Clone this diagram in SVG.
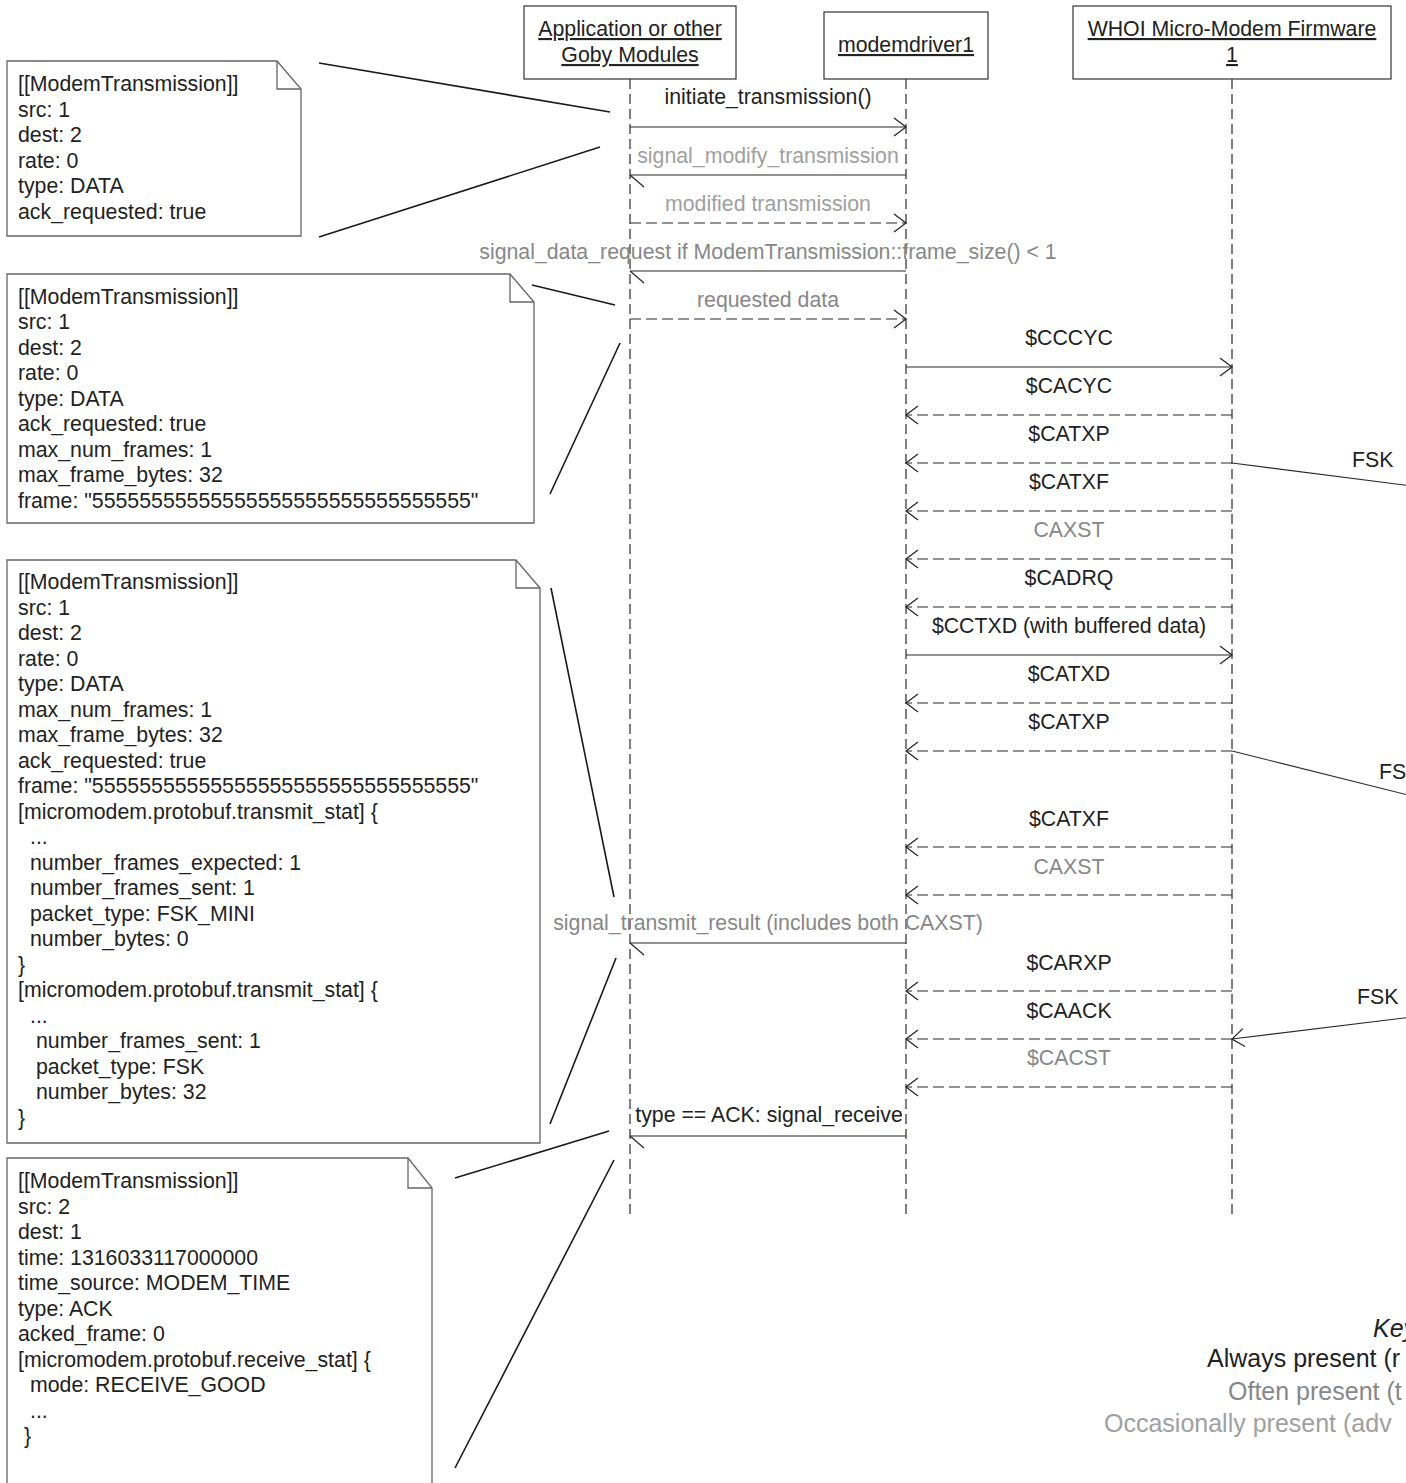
<svg xmlns="http://www.w3.org/2000/svg" width="1406" height="1483" viewBox="0 0 1406 1483">
  <style>
    text { font-family: "Liberation Sans", Arial, sans-serif; font-size: 21.3px; fill: #222; }
    .head { text-anchor: middle; text-decoration: underline; }
    .lbl { text-anchor: middle; }
    .often { fill: #878787; }
    .occ { fill: #a0a0a0; }
    .box { fill: #fff; stroke: #333; stroke-width: 1.2; }
    .life { fill: none; stroke: #555; stroke-width: 1.5; stroke-dasharray: 10 5; }
    .note { fill: #fff; stroke: #666; stroke-width: 1.3; }
    .fold { fill: none; stroke: #666; stroke-width: 1.3; }
    .msg { fill: none; stroke: #2a2a2a; stroke-width: 1.2; }
    .dash { stroke-dasharray: 11 5; }
    .tie { fill: none; stroke: #1a1a1a; stroke-width: 1.6; }
    .key { font-size: 25px; }
  </style>
  <defs>
    <marker id="open" markerUnits="userSpaceOnUse" viewBox="-16 -16 32 32" markerWidth="32" markerHeight="32" refX="0" refY="0" orient="auto" overflow="visible">
      <path d="M-12,-9 L0,0 L-12,9" fill="none" stroke="#2a2a2a" stroke-width="1.3"/>
    </marker>
    <marker id="half" markerUnits="userSpaceOnUse" viewBox="-16 -16 32 32" markerWidth="32" markerHeight="32" refX="0" refY="0" orient="auto" overflow="visible">
      <path d="M-14,-12 L0,0" fill="none" stroke="#2a2a2a" stroke-width="1.3"/>
    </marker>
  </defs>

  <rect width="1406" height="1483" fill="#fff"/>

  <!-- lifelines with their header boxes -->
  <g id="app">
    <path class="life" d="M630,79 V1217"/>
    <rect class="box" x="524" y="6" width="212" height="73"/>
    <text class="head" x="630" y="36">Application or other</text>
    <text class="head" x="630" y="62">Goby Modules</text>
  </g>
  <g id="modemdriver1">
    <path class="life" d="M906,79 V1217"/>
    <rect class="box" x="824" y="12" width="164" height="67"/>
    <text class="head" x="906" y="52">modemdriver1</text>
  </g>
  <g id="firmware">
    <path class="life" d="M1232,79 V1217"/>
    <rect class="box" x="1073" y="6" width="318" height="73"/>
    <text class="head" x="1232" y="36">WHOI Micro-Modem Firmware</text>
    <text class="head" x="1232" y="62">1</text>
  </g>

  <!-- notes -->
  <g id="note-initiate">
    <path class="note" d="M7,61 H277 L301,89 V236 H7 Z"/>
    <path class="fold" d="M277,61 V89 H301"/>
    <text x="18" y="91">[[ModemTransmission]]<tspan x="18" dy="25.5">src: 1</tspan><tspan x="18" dy="25.5">dest: 2</tspan><tspan x="18" dy="25.5">rate: 0</tspan><tspan x="18" dy="25.5">type: DATA</tspan><tspan x="18" dy="25.5">ack_requested: true</tspan></text>
  </g>
  <g id="note-data">
    <path class="note" d="M7,274 H510 L534,302 V523 H7 Z"/>
    <path class="fold" d="M510,274 V302 H534"/>
    <text x="18" y="303.5">[[ModemTransmission]]<tspan x="18" dy="25.5">src: 1</tspan><tspan x="18" dy="25.5">dest: 2</tspan><tspan x="18" dy="25.5">rate: 0</tspan><tspan x="18" dy="25.5">type: DATA</tspan><tspan x="18" dy="25.5">ack_requested: true</tspan><tspan x="18" dy="25.5">max_num_frames: 1</tspan><tspan x="18" dy="25.5">max_frame_bytes: 32</tspan><tspan x="18" dy="25.5">frame: "55555555555555555555555555555555"</tspan></text>
  </g>
  <g id="note-result">
    <path class="note" d="M7,560 H516 L540,588 V1143 H7 Z"/>
    <path class="fold" d="M516,560 V588 H540"/>
    <text x="18" y="589">[[ModemTransmission]]<tspan x="18" dy="25.5">src: 1</tspan><tspan x="18" dy="25.5">dest: 2</tspan><tspan x="18" dy="25.5">rate: 0</tspan><tspan x="18" dy="25.5">type: DATA</tspan><tspan x="18" dy="25.5">max_num_frames: 1</tspan><tspan x="18" dy="25.5">max_frame_bytes: 32</tspan><tspan x="18" dy="25.5">ack_requested: true</tspan><tspan x="18" dy="25.5">frame: "55555555555555555555555555555555"</tspan><tspan x="18" dy="25.5">[micromodem.protobuf.transmit_stat] {</tspan><tspan x="30" dy="25.5">...</tspan><tspan x="30" dy="25.5">number_frames_expected: 1</tspan><tspan x="30" dy="25.5">number_frames_sent: 1</tspan><tspan x="30" dy="25.5">packet_type: FSK_MINI</tspan><tspan x="30" dy="25.5">number_bytes: 0</tspan><tspan x="18" dy="25.5">}</tspan><tspan x="18" dy="25.5">[micromodem.protobuf.transmit_stat] {</tspan><tspan x="30" dy="25.5">...</tspan><tspan x="36" dy="25.5">number_frames_sent: 1</tspan><tspan x="36" dy="25.5">packet_type: FSK</tspan><tspan x="36" dy="25.5">number_bytes: 32</tspan><tspan x="18" dy="25.5">}</tspan></text>
  </g>
  <g id="note-ack">
    <path class="note" d="M7,1158 H408 L432,1188 V1495 H7 Z"/>
    <path class="fold" d="M408,1158 V1188 H432"/>
    <text x="18" y="1188">[[ModemTransmission]]<tspan x="18" dy="25.5">src: 2</tspan><tspan x="18" dy="25.5">dest: 1</tspan><tspan x="18" dy="25.5">time: 1316033117000000</tspan><tspan x="18" dy="25.5">time_source: MODEM_TIME</tspan><tspan x="18" dy="25.5">type: ACK</tspan><tspan x="18" dy="25.5">acked_frame: 0</tspan><tspan x="18" dy="25.5">[micromodem.protobuf.receive_stat] {</tspan><tspan x="30" dy="25.5">mode: RECEIVE_GOOD</tspan><tspan x="30" dy="25.5">...</tspan><tspan x="24" dy="25.5">}</tspan></text>
  </g>

  <!-- legend -->
  <g id="legend">
    <text class="key" x="1373" y="1337" font-style="italic">Key</text>
    <text class="key" x="1207" y="1367">Always present (r</text>
    <text class="key often" x="1228" y="1400">Often present (t</text>
    <text class="key occ" x="1104" y="1432">Occasionally present (adv</text>
  </g>

  <!-- messages, note ties and acoustic links -->
  <g id="connectors">
    <path class="msg" d="M630,127 H906" marker-end="url(#open)"/>
    <text class="lbl" x="768" y="104">initiate_transmission()</text>

    <path class="msg" d="M906,175 H630" marker-end="url(#half)"/>
    <text class="lbl occ" x="768" y="163">signal_modify_transmission</text>

    <path class="msg dash" d="M630,223 H906" marker-end="url(#open)"/>
    <text class="lbl occ" x="768" y="211">modified transmission</text>

    <path class="msg" d="M906,271 H630" marker-end="url(#half)"/>
    <text class="lbl often" x="768" y="259">signal_data_request if ModemTransmission::frame_size() &lt; 1</text>

    <path class="msg dash" d="M630,319 H906" marker-end="url(#open)"/>
    <text class="lbl often" x="768" y="307">requested data</text>

    <path class="msg" d="M906,367 H1232" marker-end="url(#open)"/>
    <text class="lbl" x="1069" y="345">$CCCYC</text>

    <path class="msg dash" d="M1232,415 H906" marker-end="url(#open)"/>
    <text class="lbl" x="1069" y="393">$CACYC</text>

    <path class="msg dash" d="M1232,463 H906" marker-end="url(#open)"/>
    <text class="lbl" x="1069" y="441">$CATXP</text>

    <path class="msg dash" d="M1232,511 H906" marker-end="url(#open)"/>
    <text class="lbl" x="1069" y="489">$CATXF</text>

    <path class="msg dash" d="M1232,559 H906" marker-end="url(#open)"/>
    <text class="lbl often" x="1069" y="537">CAXST</text>

    <path class="msg dash" d="M1232,607 H906" marker-end="url(#open)"/>
    <text class="lbl" x="1069" y="585">$CADRQ</text>

    <path class="msg" d="M906,655 H1232" marker-end="url(#open)"/>
    <text class="lbl" x="1069" y="633">$CCTXD (with buffered data)</text>

    <path class="msg dash" d="M1232,703 H906" marker-end="url(#open)"/>
    <text class="lbl" x="1069" y="681">$CATXD</text>

    <path class="msg dash" d="M1232,751 H906" marker-end="url(#open)"/>
    <text class="lbl" x="1069" y="729">$CATXP</text>

    <path class="msg dash" d="M1232,847 H906" marker-end="url(#open)"/>
    <text class="lbl" x="1069" y="826">$CATXF</text>

    <path class="msg dash" d="M1232,895 H906" marker-end="url(#open)"/>
    <text class="lbl often" x="1069" y="874">CAXST</text>

    <path class="msg" d="M906,943 H630" marker-end="url(#half)"/>
    <text class="lbl often" x="768" y="930">signal_transmit_result (includes both CAXST)</text>

    <path class="msg dash" d="M1232,991 H906" marker-end="url(#open)"/>
    <text class="lbl" x="1069" y="970">$CARXP</text>

    <path class="msg dash" d="M1232,1039 H906" marker-end="url(#open)"/>
    <text class="lbl" x="1069" y="1018">$CAACK</text>

    <path class="msg dash" d="M1232,1087 H906" marker-end="url(#open)"/>
    <text class="lbl often" x="1069" y="1065">$CACST</text>

    <path class="msg" d="M906,1136 H630" marker-end="url(#half)"/>
    <text class="lbl" x="769" y="1122">type == ACK: signal_receive</text>

    <!-- acoustic packets leaving / arriving at the firmware -->
    <path class="msg" d="M1232,463 L1412,486"/>
    <text x="1352" y="467">FSK</text>
    <path class="msg" d="M1232,751 L1412,796"/>
    <text x="1379" y="779">FSK</text>
    <path class="msg" d="M1412,1017 L1232,1039" marker-end="url(#open)"/>
    <text x="1357" y="1004">FSK</text>

    <!-- ties from notes to lifelines -->
    <path class="tie" d="M319,63 L610,112"/>
    <path class="tie" d="M319,237 L600,147"/>
    <path class="tie" d="M532,285 L615,305"/>
    <path class="tie" d="M550,494 L620,343"/>
    <path class="tie" d="M551,588 L614,897"/>
    <path class="tie" d="M550,1124 L616,958"/>
    <path class="tie" d="M455,1178 L609,1131"/>
    <path class="tie" d="M455,1468 L614,1160"/>
  </g>
</svg>
